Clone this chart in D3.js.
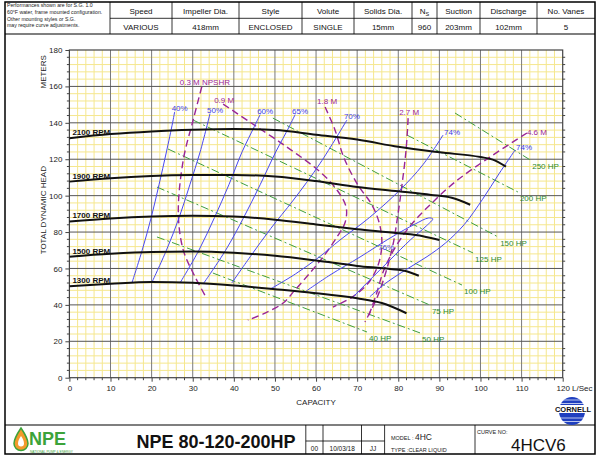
<!DOCTYPE html>
<html><head><meta charset="utf-8">
<script src="https://cdn.jsdelivr.net/npm/d3@7"></script>
<style>body{margin:0;background:#fff}svg{display:block}text{font-family:"Liberation Sans",Arial,sans-serif}</style>
</head><body><svg id="c" width="600" height="457"></svg>
<script>
// ---------- DATA ----------
const headerNote = ["Performances shown are for S.G. 1.0","60°F water, frame mounted configuration.","Other mounting styles or S.G.","may require curve adjustments."];
const headerTitles = ["Speed","Impeller Dia.","Style","Volute","Solids Dia.","N","Suction","Discharge","No. Vanes"];
const headerValues = ["VARIOUS","418mm","ENCLOSED","SINGLE","15mm","960","203mm","102mm","5"];
const xTicks = [0,10,20,30,40,50,60,70,80,90,100,110,120];
const yTicks = [0,20,40,60,80,100,120,140,160,180];

const rpmLabels = ["2100 RPM","1900 RPM","1700 RPM","1500 RPM","1300 RPM"];
const rpm2100 = [[0,131.5],[10,133.8],[20,135.3],[30,136.2],[40,136.6],[50,136],[60,133.4],[70,130.8],[80,126.8],[90,123.8],[100,121.2],[103,119.8],[106.2,115.9]];
const rpm1900 = [[0,107.7],[10,109.6],[20,110.8],[30,111.3],[40,111.4],[50,110.5],[60,108],[70,104.8],[80,102.4],[88,100.4],[93,98.8],[97.5,95]];
const rpm1700 = [[0,85.8],[10,87.5],[20,88.6],[30,89],[40,88.5],[50,86.8],[60,84.2],[70,81.6],[80,79.4],[86,77.7],[90,75.6]];
const rpm1500 = [[0,66.5],[10,68.1],[20,69.1],[30,69.3],[40,68.6],[50,67],[60,64.4],[70,61.4],[78,59.7],[82,58.5],[85,56]];
const rpm1300 = [[0,50.2],[10,51.6],[20,52.6],[30,52.1],[40,50.6],[50,48.6],[60,46.4],[70,43.6],[76,41],[82,35.4]];

const effLabels = ["40%","50%","60%","65%","70%","74%","74%"];
const eff40 = [[15.2,52],[17.7,70],[19.9,88],[21.8,106],[23.6,124],[25.1,140],[25.6,146]];
const eff50 = [[20,52],[23.6,70],[26.7,88],[29.3,106],[31.8,124],[34.2,145]];
const eff60 = [[26.9,52],[31.5,70],[35.3,88],[38.8,106],[42,124],[45,138],[46.4,144.5]];
const eff65 = [[32.7,52],[38,70],[42.4,88],[46.4,106],[50.2,124],[53.5,138],[54.9,144.5]];
const eff70 = [[39.5,52],[44,66.5],[49,82],[54.5,97.6],[61,117.8],[67.5,141.5]];
const eff74a = [[48.8,48.6],[55,57],[60.9,66.5],[65.8,75.6],[73,88],[80.4,103.1],[86,117],[90.9,133.3]];
const eff74b = [[73.1,44.5],[77,52],[82,59.5],[87,66.5],[91.5,74],[96,84],[100.5,98],[104.5,112],[108.4,125]];
const eff76 = [[57.3,47.1],[63.4,56.4],[70.7,66.3],[78,76.7],[84.1,84.4],[87.3,87.7],[88.4,87.3],[86.8,83.3],[82.9,75.6],[78,64.7],[73.1,53.7],[69,44.3]];
const eff76Label = ["76%", 75.1, 70.1];

const npshLabels = ["0.3 M NPSHR","0.9 M","1.8 M","2.7 M","4.6 M"];
const npsh03 = [[32.2,159.8],[30.1,141.5],[27.7,119.6],[26.5,90.5],[27.7,70.1],[30.6,55.3],[33.4,43.6]];
const npsh09 = [[37.4,150.3],[43.9,140.4],[52.9,126.7],[61,113],[65.1,103.1],[67.3,93.8],[67.1,85.5],[65.1,77.3],[61.5,65.7],[58.5,57.5],[54.9,48.2],[52,41],[47.6,35.5],[43.4,31.6]];
const npsh18 = [[62.2,148.7],[64.6,136.1],[66.8,120.7],[70.2,105.8],[73.6,94.9],[75.5,83.9],[76,72.9],[75.1,61.9],[72.7,52],[68.8,44.3],[64.1,38.8]];
const npsh27 = [[82.4,142.6],[81.9,125.1],[80.9,105.8],[79.9,89.3],[78.7,72.9],[77,58.1],[74.8,43.8],[71.9,30.6]];
const npsh46 = [[111.3,134.4],[102.3,121.2],[93.8,107.5],[87.7,94.9],[82.9,83.4],[79.2,71.3],[76.5,59.2],[74.6,45.4],[72.6,32.8]];

const hpLabels = ["250 HP","200 HP","150 HP","125 HP","100 HP","75 HP","50 HP","40 HP"];
const hp250 = [[93.8,145.4],[112.1,119.6]];
const hp200 = [[82.1,133.3],[109.1,102]];
const hp150 = [[49.5,142.6],[104.3,77.3]];
const hp125 = [[30.1,141.5],[98.2,68.5]];
const hp100 = [[24,125.6],[95.5,50.9]];
const hp75 = [[21.3,104.7],[87.7,39.9]];
const hp50 = [[21.3,77.3],[85.3,24.6]];
const hp40 = [[34.9,57.5],[72.4,25.1]];

const footerTitle = "NPE 80-120-200HP";
const footerCells = ["00","10/03/18","JJ"];
const modelText = "4HC", typeText = "TYPE :CLEAR LIQUID", curveNo = "4HCV6";

// ---------- DRAW ----------
const svg = d3.select("#c");
const x = d3.scaleLinear().domain([0,120]).range([69.4,562.7]);
const y = d3.scaleLinear().domain([0,180]).range([377.7,50]);

// frame & header
const F = svg.append("g");
F.append("rect").attr("x",5).attr("y",2).attr("width",590).attr("height",452).attr("fill","none").attr("stroke","#000").attr("stroke-width",1.5);
F.append("line").attr("x1",5).attr("x2",595).attr("y1",34).attr("y2",34).attr("stroke","#000").attr("stroke-width",1.2);
F.append("line").attr("x1",110).attr("x2",595).attr("y1",18.3).attr("y2",18.3).attr("stroke","#000").attr("stroke-width",0.8);
const cols = [110,172,239,302,354,412,437,480,537,595];
cols.slice(0,-1).forEach(c=>F.append("line").attr("x1",c).attr("x2",c).attr("y1",2).attr("y2",34).attr("stroke","#000").attr("stroke-width",0.8));
headerNote.forEach((t,i)=>F.append("text").attr("x",7).attr("y",[7,13.5,21,27.3][i]).attr("font-size",5.2).attr("fill","#222").text(t));
headerTitles.forEach((t,i)=>{
  const cx=(cols[i]+cols[i+1])/2;
  const tx=F.append("text").attr("x",cx).attr("y",14).attr("text-anchor","middle").attr("font-size",8).attr("fill","#111").text(t);
  if(t==="N") tx.append("tspan").attr("font-size",5.5).attr("dy",2).text("S");
  F.append("text").attr("x",cx).attr("y",29.5).attr("text-anchor","middle").attr("font-size",8).attr("fill","#111").text(headerValues[i]);
});

// footer
F.append("line").attr("x1",5).attr("x2",595).attr("y1",425).attr("y2",425).attr("stroke","#000").attr("stroke-width",1.2);
[305.8,323,361.5,384.6,475].forEach(c=>F.append("line").attr("x1",c).attr("x2",c).attr("y1",425).attr("y2",454).attr("stroke","#000").attr("stroke-width",0.8));
F.append("line").attr("x1",305.8).attr("x2",384.6).attr("y1",441).attr("y2",441).attr("stroke","#000").attr("stroke-width",0.8);
[[314.4,footerCells[0]],[342.2,footerCells[1]],[373,footerCells[2]]].forEach(d=>F.append("text").attr("x",d[0]).attr("y",451).attr("text-anchor","middle").attr("font-size",6.5).attr("fill","#111").text(d[1]));
F.append("text").attr("x",216).attr("y",448).attr("text-anchor","middle").attr("font-size",18).attr("font-weight","bold").attr("fill","#111").text(footerTitle);
const m=F.append("text").attr("x",391).attr("y",440).attr("font-size",5.5).attr("fill","#222").text("MODEL : ");
m.append("tspan").attr("font-size",8.5).text(modelText);
F.append("text").attr("x",391).attr("y",452).attr("font-size",5.5).attr("fill","#222").text(typeText);
F.append("text").attr("x",477).attr("y",434).attr("font-size",5.5).attr("fill","#222").text("CURVE NO:");
F.append("text").attr("x",511).attr("y",451).attr("font-size",17).attr("fill","#111").text(curveNo);
// NPE logo
F.append("path").attr("d","M21,428 C17,434 14,439 14,443.5 A7,7 0 0 0 28,443.5 C28,439 25,434 21,428 Z").attr("fill","#f39a2c").attr("stroke","#3ca33a").attr("stroke-width",1.5);
F.append("path").attr("d","M21,436 C19,439 18,441 18,443.5 A3,3 0 0 0 24,443.5 C24,441 23,439 21,436 Z").attr("fill","#fff");
F.append("text").attr("x",29).attr("y",445).attr("font-size",18).attr("font-weight","bold").attr("fill","#3ca33a").text("NPE");
F.append("text").attr("x",30).attr("y",452.6).attr("font-size",3.2).attr("fill","#3ca33a").text("NATIONAL PUMP & ENERGY");
// Cornell logo
const C=F.append("g");
C.append("ellipse").attr("cx",572).attr("cy",411).attr("rx",13).attr("ry",14).attr("fill","#1f3fbf");
[400,403.5,418,421.5].forEach(yy=>C.append("line").attr("x1",558).attr("x2",586).attr("y1",yy).attr("y2",yy).attr("stroke","#fff").attr("stroke-width",0.7));
C.append("rect").attr("x",554).attr("y",405).attr("width",38).attr("height",8).attr("fill","#fff");
C.append("text").attr("x",573).attr("y",412).attr("text-anchor","middle").attr("font-size",7.5).attr("font-weight","bold").attr("font-family","Liberation Serif, Times New Roman, serif").attr("fill","#111").text("CORNELL");

// grid
const G = svg.append("g");
d3.range(0,121,2).filter(v=>v%10).forEach(v=>G.append("line").attr("x1",x(v)).attr("x2",x(v)).attr("y1",y(0)).attr("y2",y(180)).attr("stroke","#f5e78e").attr("stroke-width",1));
d3.range(0,181,4).filter(v=>v%20).forEach(v=>G.append("line").attr("x1",x(0)).attr("x2",x(120)).attr("y1",y(v)).attr("y2",y(v)).attr("stroke","#f5e78e").attr("stroke-width",1));
xTicks.slice(1,-1).forEach(v=>G.append("line").attr("x1",x(v)).attr("x2",x(v)).attr("y1",y(0)).attr("y2",y(180)).attr("stroke","#7a7a7a").attr("stroke-width",1));
yTicks.slice(1,-1).forEach(v=>G.append("line").attr("x1",x(0)).attr("x2",x(120)).attr("y1",y(v)).attr("y2",y(v)).attr("stroke","#555").attr("stroke-width",1));
G.append("rect").attr("x",x(0)).attr("y",y(180)).attr("width",x(120)-x(0)).attr("height",y(0)-y(180)).attr("fill","none").attr("stroke","#444").attr("stroke-width",1.2);

// axes
const ax = svg.append("g");
const left = ax.append("g").attr("transform",`translate(${x(0)},0)`).call(d3.axisLeft(y).tickValues(yTicks).tickSize(4).tickSizeOuter(0));
const bottom = ax.append("g").attr("transform",`translate(0,${y(0)})`).call(d3.axisBottom(x).tickValues(xTicks).tickSize(4).tickSizeOuter(0).tickFormat(d=>d===120?"120 L/Sec":d));
[left,bottom].forEach(a=>{a.select(".domain").remove();a.selectAll("line").attr("stroke","#444");a.selectAll("text").attr("font-size",8).attr("fill","#222").attr("font-family","Liberation Sans, Arial, sans-serif");});
bottom.selectAll("text").filter(d=>d===120).attr("text-anchor","start").attr("x",-6.7);
bottom.selectAll("text").attr("dy","0.85em");
d3.range(0,181,4).filter(v=>v%20).forEach(v=>{
  ax.append("line").attr("x1",x(0)-2.5).attr("x2",x(0)).attr("y1",y(v)).attr("y2",y(v)).attr("stroke","#444");
  ax.append("line").attr("x1",x(120)).attr("x2",x(120)+2.5).attr("y1",y(v)).attr("y2",y(v)).attr("stroke","#444");
});
d3.range(0,121,2).filter(v=>v%10).forEach(v=>ax.append("line").attr("x1",x(v)).attr("x2",x(v)).attr("y1",y(0)).attr("y2",y(0)+2.5).attr("stroke","#444"));
ax.append("text").attr("transform",`translate(46,${y(92)}) rotate(-90)`).attr("text-anchor","middle").attr("font-size",8).attr("fill","#222").text("TOTAL DYNAMIC HEAD");
ax.append("text").attr("transform",`translate(46,${y(168)}) rotate(-90)`).attr("text-anchor","middle").attr("font-size",8).attr("fill","#222").text("METERS");
ax.append("text").attr("x",(x(0)+x(120))/2).attr("y",405).attr("text-anchor","middle").attr("font-size",8).attr("fill","#222").text("CAPACITY");

const lineS = d3.line().x(d=>x(d[0])).y(d=>y(d[1]));
const P = svg.append("g");

// HP lines
const hps=[hp250,hp200,hp150,hp125,hp100,hp75,hp50,hp40];
hps.forEach((s,i)=>{
  P.append("path").attr("d",lineS(s)).attr("fill","none").attr("stroke","#3f9f3f").attr("stroke-width",1).attr("stroke-dasharray","8,3,2,3");
  const e=s[s.length-1];
  P.append("text").attr("x",x(e[0])+2).attr("y",y(e[1])+9).attr("font-size",8).attr("fill","#2e8b2e").text(hpLabels[i]);
});

// NPSHR
const npsh=[npsh03,npsh09,npsh18,npsh27,npsh46];
const nOff=[[-22,-2],[-9,-1.5],[-8,-3],[-9,-3],[0,2]];
npsh.forEach((s,i)=>{
  P.append("path").attr("d",lineS.curve(d3.curveCatmullRom)(s)).attr("fill","none").attr("stroke","#9a2596").attr("stroke-width",1.4).attr("stroke-dasharray","7,4");
  const st=s[0];
  P.append("text").attr("x",x(st[0])+nOff[i][0]).attr("y",y(st[1])+nOff[i][1]).attr("font-size",8).attr("fill","#9a2596").text(npshLabels[i]);
});

// efficiency
const effs=[eff40,eff50,eff60,eff65,eff70,eff74a,eff74b];
effs.forEach((s,i)=>{
  P.append("path").attr("d",lineS.curve(d3.curveCatmullRom)(s)).attr("fill","none").attr("stroke","#4848f0").attr("stroke-width",1);
  const e=s[s.length-1];
  P.append("text").attr("x",x(e[0])-3+(i>=5?4:0)).attr("y",y(e[1])-1+(i>=5?1:0)).attr("font-size",8).attr("fill","#3c3ce6").text(effLabels[i]);
});
P.append("path").attr("d",lineS.curve(d3.curveCatmullRom)(eff76)).attr("fill","none").attr("stroke","#4848f0").attr("stroke-width",1);
P.append("text").attr("x",x(eff76Label[1])).attr("y",y(eff76Label[2])).attr("font-size",8).attr("fill","#3c3ce6").text(eff76Label[0]);

// RPM curves
const rpms=[rpm2100,rpm1900,rpm1700,rpm1500,rpm1300];
rpms.forEach((s,i)=>{
  P.append("path").attr("d",lineS.curve(d3.curveMonotoneX)(s)).attr("fill","none").attr("stroke","#111").attr("stroke-width",2);
  P.append("text").attr("x",x(0)+3).attr("y",y(s[0][1])-3).attr("font-size",8).attr("font-weight","bold").attr("fill","#111").text(rpmLabels[i]);
});
</script></body></html>
